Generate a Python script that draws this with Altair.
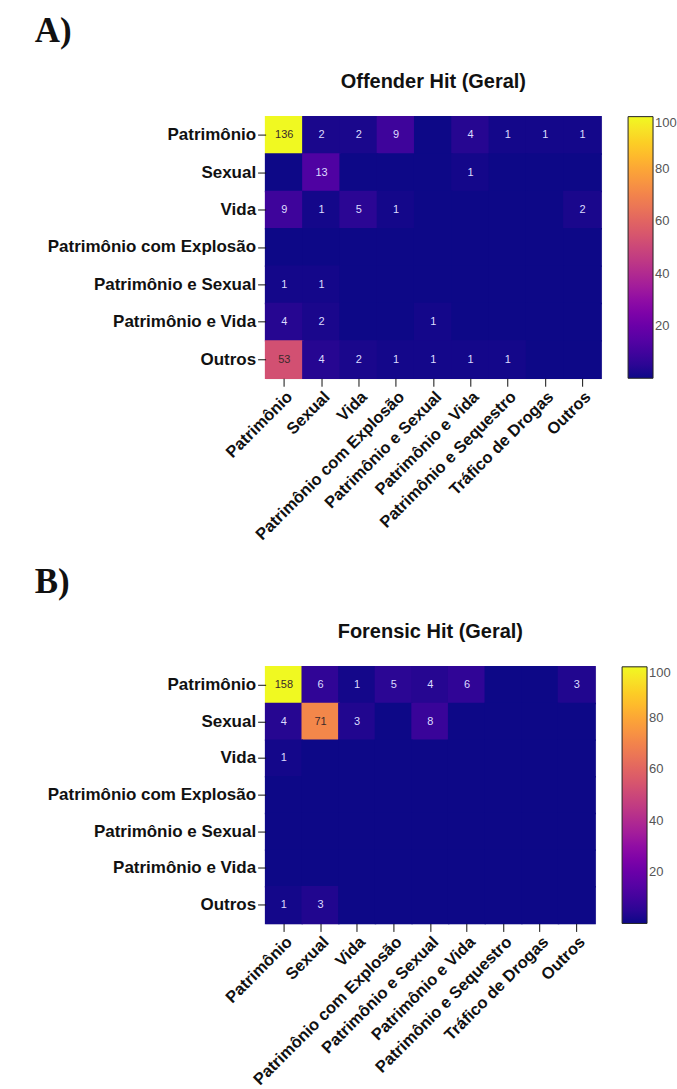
import altair as alt
import pandas as pd

row_labels = ["Patrimônio", "Sexual", "Vida", "Patrimônio com Explosão",
              "Patrimônio e Sexual", "Patrimônio e Vida", "Outros"]
col_labels = ["Patrimônio", "Sexual", "Vida", "Patrimônio com Explosão",
              "Patrimônio e Sexual", "Patrimônio e Vida", "Patrimônio e Sequestro",
              "Tráfico de Drogas", "Outros"]

# Offender Hit (Geral) – one list per row
off_patrimonio = [136, 2, 2, 9, 0, 4, 1, 1, 1]
off_sexual = [0, 13, 0, 0, 0, 1, 0, 0, 0]
off_vida = [9, 1, 5, 1, 0, 0, 0, 0, 2]
off_explosao = [0, 0, 0, 0, 0, 0, 0, 0, 0]
off_pat_sexual = [1, 1, 0, 0, 0, 0, 0, 0, 0]
off_pat_vida = [4, 2, 0, 0, 1, 0, 0, 0, 0]
off_outros = [53, 4, 2, 1, 1, 1, 1, 0, 0]

# Forensic Hit (Geral) – one list per row
for_patrimonio = [158, 6, 1, 5, 4, 6, 0, 0, 3]
for_sexual = [4, 71, 3, 0, 8, 0, 0, 0, 0]
for_vida = [1, 0, 0, 0, 0, 0, 0, 0, 0]
for_explosao = [0, 0, 0, 0, 0, 0, 0, 0, 0]
for_pat_sexual = [0, 0, 0, 0, 0, 0, 0, 0, 0]
for_pat_vida = [0, 0, 0, 0, 0, 0, 0, 0, 0]
for_outros = [1, 3, 0, 0, 0, 0, 0, 0, 0]

legend_ticks = [20, 40, 60, 80, 100]

offender_rows = [off_patrimonio, off_sexual, off_vida, off_explosao,
                 off_pat_sexual, off_pat_vida, off_outros]
forensic_rows = [for_patrimonio, for_sexual, for_vida, for_explosao,
                 for_pat_sexual, for_pat_vida, for_outros]


def to_long(rows):
    recs = []
    for r, vals in zip(row_labels, rows):
        for c, v in zip(col_labels, vals):
            recs.append({"row": r, "col": c, "value": v})
    return pd.DataFrame(recs)


LABEL_FONT = "Liberation Sans"
SCALE = alt.Scale(scheme="plasma", domain=[0, 100], clamp=True)


def panel(rows, title, letter, w, h):
    df = to_long(rows)
    base = alt.Chart(df).encode(
        x=alt.X("col:N", sort=col_labels, title=None,
                axis=alt.Axis(labelAngle=-45, labelFont=LABEL_FONT, labelFontSize=16.5,
                              labelFontWeight="bold", labelColor="#111",
                              tickSize=8, tickColor="#111", domain=False, grid=False,
                              labelPadding=2, labelLimit=400)),
        y=alt.Y("row:N", sort=row_labels, title=None,
                axis=alt.Axis(labelFont=LABEL_FONT, labelFontSize=17,
                              labelFontWeight="bold", labelColor="#111",
                              tickSize=8, tickColor="#111", domain=False, grid=False,
                              labelPadding=2, labelLimit=400)),
    )
    rect = base.mark_rect(
        width=alt.RelativeBandSize(band=1.04), height=alt.RelativeBandSize(band=1.04)
    ).encode(
        color=alt.Color("value:Q", scale=SCALE,
                        legend=alt.Legend(title=None, values=legend_ticks,
                                          type="gradient", direction="vertical",
                                          gradientLength=h, gradientThickness=25,
                                          gradientStrokeColor="#222",
                                          gradientStrokeWidth=1,
                                          labelFontSize=13, labelFont=LABEL_FONT,
                                          labelColor="#555", offset=25,
                                          padding=0)),
    )
    text = base.transform_filter("datum.value > 0").mark_text(
        fontSize=11, font=LABEL_FONT
    ).encode(
        text="value:Q",
        color=alt.condition("datum.value > 40", alt.value("#3a2a2a"), alt.value("#dcdcff")),
    )
    inner = alt.layer(rect, text).properties(
        width=w, height=h,
        title=alt.Title(title, font=LABEL_FONT, fontSize=20, fontWeight="bold",
                        color="#111", offset=24, anchor="middle"),
    )
    return alt.vconcat(inner).properties(
        title=alt.Title(letter, font="Liberation Serif", fontSize=35, fontWeight="bold",
                        color="#111", anchor="start", offset=22, dx=-12)
    )


pa = panel(offender_rows, "Offender Hit (Geral)", "A)", 336, 262)
pb = panel(forensic_rows, "Forensic Hit (Geral)", "B)", 330, 257)

chart = alt.vconcat(pa, pb, spacing=20).resolve_scale(color="independent").properties(
    padding={"left": 34, "top": 13, "right": 0, "bottom": 0}
).configure_view(stroke="#111", strokeWidth=1, fill="#0d0887").configure(background="white")

chart.save("out.html", embed_options={"renderer": "svg", "actions": False})
